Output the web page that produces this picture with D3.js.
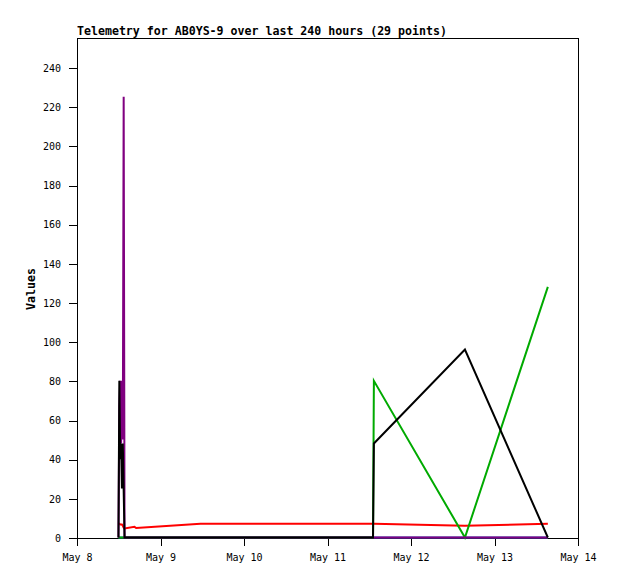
<!DOCTYPE html>
<html><head><meta charset="utf-8">
<script src="https://cdn.jsdelivr.net/npm/d3@7"></script>
<style>
html,body{margin:0;padding:0;background:#fff;}
text{font-family:"DejaVu Sans Mono",monospace;fill:#000;}
</style></head>
<body><svg id="chart" width="618" height="579"></svg>
<script>
const titleText = "Telemetry for AB0YS-9 over last 240 hours (29 points)";
const yLabel = "Values";
const times = ["2024-05-08T11:55","2024-05-08T12:10","2024-05-08T12:25","2024-05-08T12:40",
  "2024-05-08T12:55","2024-05-08T13:10","2024-05-08T13:25","2024-05-08T13:40",
  "2024-05-08T16:30","2024-05-08T17:00","2024-05-09T11:30",
  "2024-05-11T13:05","2024-05-11T13:20","2024-05-12T15:30","2024-05-13T15:20"];
const blueValues   = [0,0,0,0,0,0,0,0,0,0,0,0,0,0,0];
const redValues    = [7,7,6.6,6.6,6.6,6,5,4.6,5.5,4.8,7,7,7,6,7];
const greenValues  = [0,0,0,0,0,0,0,0,0,0,0,0,80,0,128];
const purpleValues = [0,67,80,48,80,50,225,0,0,0,0,0,0,0,0];
const blackValues  = [0,80,40,48,25,48,24,0,0,0,0,0,48,96,0];
const yTicks = [0,20,40,60,80,100,120,140,160,180,200,220,240];
const xTickDates = ["2024-05-08","2024-05-09","2024-05-10","2024-05-11","2024-05-12","2024-05-13","2024-05-14"];
const xTickLabels = ["May 8","May 9","May 10","May 11","May 12","May 13","May 14"];

const parse = d3.utcParse("%Y-%m-%dT%H:%M");
const parseDay = d3.utcParse("%Y-%m-%d");
const tDates = times.map(parse);
const xDates = xTickDates.map(parseDay);

const L=77, R=578, T=38, B=538;
const x = d3.scaleUtc().domain([xDates[0], xDates[xDates.length-1]]).range([L,R]);
const y = d3.scaleLinear().domain([0,240]).range([B,68]);

const svg = d3.select("#chart");

// frame
svg.append("path").attr("d",`M${L},${B}V${T}H${R}V${B}`)
  .attr("fill","none").attr("stroke","#000").attr("stroke-width",1)
  .attr("shape-rendering","crispEdges");

// axes
const yAxis = d3.axisLeft(y).tickValues(yTicks).tickSize(8).tickPadding(8).tickFormat(d3.format("d"));
const gy = svg.append("g").attr("transform",`translate(${L},0)`).call(yAxis);
gy.select(".domain").remove();
gy.selectAll("text").style("font-family","DejaVu Sans Mono").style("font-size","10px").attr("fill","#000");
gy.selectAll("line").attr("shape-rendering","crispEdges").attr("stroke","#000");

const xAxis = d3.axisBottom(x).tickValues(xDates).tickSize(8).tickPadding(8)
  .tickFormat((d,i)=>xTickLabels[i]);
const gx = svg.append("g").attr("transform",`translate(0,${B})`).call(xAxis);
gx.select(".domain").remove();
gx.selectAll("text").style("font-family","DejaVu Sans Mono").style("font-size","10px").attr("fill","#000");
gx.selectAll("line").attr("shape-rendering","crispEdges").attr("stroke","#000");

svg.append("path").attr("d",`M${L},${T}V${B+8}M${L-8},${B}H${R}`)
  .attr("fill","none").attr("stroke","#000").attr("stroke-width",1)
  .attr("shape-rendering","crispEdges");

// data lines above the axes
const series = [
  {v: blueValues, c:"#1e64c8"},
  {v: redValues, c:"#ff0000"},
  {v: greenValues, c:"#00aa00"},
  {v: purpleValues, c:"#800080"},
  {v: blackValues, c:"#000000"}
];
const line = d3.line().x((d,i)=>x(tDates[i])).y(d=>y(d)-0.5);
series.forEach(s=>{
  svg.append("path").datum(s.v).attr("d",line)
    .attr("fill","none").attr("stroke",s.c).attr("stroke-width",2)
    .attr("stroke-linejoin","miter");
});

svg.append("text").attr("x",L).attr("y",35)
  .style("font-size","11.6px").style("font-weight","bold").text(titleText);
svg.append("text").attr("transform","translate(35,289) rotate(-90)")
  .attr("text-anchor","middle")
  .style("font-size","11.6px").style("font-weight","bold").text(yLabel);
</script></body></html>
